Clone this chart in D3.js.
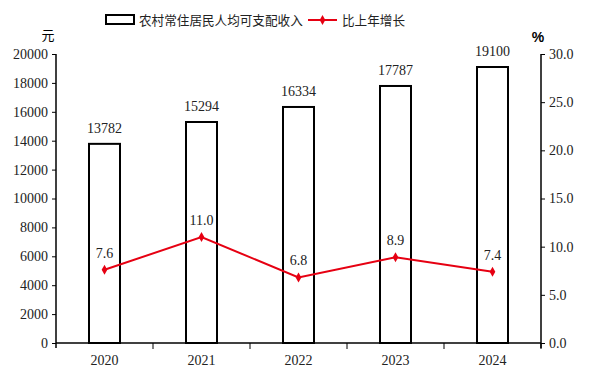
<!DOCTYPE html>
<html>
<head>
<meta charset="utf-8">
<style>
body { margin: 0; background: #fff; }
svg text { font-family: "Liberation Serif", "DejaVu Serif", serif; }
.cjk { font-family: "Noto Sans CJK SC", sans-serif; }
</style>
</head>
<body>
<svg width="589" height="374"></svg>
<script src="https://cdn.jsdelivr.net/npm/d3@7"></script>
<script>
var years = ["2020", "2021", "2022", "2023", "2024"];
var income = [13782, 15294, 16334, 17787, 19100];
var growth = [7.6, 11.0, 6.8, 8.9, 7.4];
var leftTicks = [0, 2000, 4000, 6000, 8000, 10000, 12000, 14000, 16000, 18000, 20000];
var rightTicks = [0, 5, 10, 15, 20, 25, 30];

var svg = d3.select("svg"),
    pLeft = 56, pRight = 541, pTop = 54, pBottom = 343;

var x = d3.scaleBand().domain(years).range([pLeft, pRight]);
var y = d3.scaleLinear().domain([0, 20000]).range([pBottom, pTop]);
var y2 = d3.scaleLinear().domain([0, 30]).range([pBottom, pTop]);

function cx(i) { return x(years[i]) + x.bandwidth() / 2; }

// bars
svg.selectAll(".bar")
  .data(income)
  .enter().append("rect")
    .attr("class", "bar")
    .attr("x", function(d, i) { return cx(i) - 15.5; })
    .attr("y", function(d) { return y(d); })
    .attr("width", 31)
    .attr("height", function(d) { return pBottom - y(d); })
    .attr("fill", "#fff")
    .attr("stroke", "#000")
    .attr("stroke-width", 2);

svg.selectAll(".barlab")
  .data(income)
  .enter().append("text")
    .attr("x", function(d, i) { return cx(i); })
    .attr("y", function(d) { return y(d) - 11; })
    .attr("text-anchor", "middle")
    .attr("font-size", 14)
    .attr("fill", "#222")
    .text(function(d) { return d; });

// axes
var xAxis = svg.append("g")
    .attr("transform", "translate(0," + pBottom + ")")
    .call(d3.axisBottom(x).tickSize(0).tickPadding(12));
xAxis.select(".domain").remove();
xAxis.selectAll("text").attr("font-size", 14).attr("fill", "#222").attr("font-family", "Liberation Serif");
svg.append("line").attr("x1", pLeft).attr("x2", pRight).attr("y1", pBottom).attr("y2", pBottom)
  .attr("stroke", "#000").attr("stroke-width", 1.5);
svg.selectAll(".xtick")
  .data(years)
  .enter().append("line")
    .attr("x1", function(d) { return x(d) + x.bandwidth(); })
    .attr("x2", function(d) { return x(d) + x.bandwidth(); })
    .attr("y1", pBottom).attr("y2", pBottom + 6)
    .attr("stroke", "#000").attr("stroke-width", 1);

var yAxis = svg.append("g")
    .attr("transform", "translate(" + pLeft + ",0)")
    .call(d3.axisLeft(y).tickValues(leftTicks).tickSize(4).tickSizeOuter(0).tickPadding(4).tickFormat(d3.format("d")));
yAxis.select(".domain").attr("d", "M0," + pTop + "V" + (pBottom + 5)).attr("stroke-width", 1.5);
yAxis.selectAll("text").attr("font-size", 14).attr("fill", "#222").attr("font-family", "Liberation Serif");

var y2Axis = svg.append("g")
    .attr("transform", "translate(" + pRight + ",0)")
    .call(d3.axisRight(y2).tickValues(rightTicks).tickSize(4).tickSizeOuter(0).tickPadding(4).tickFormat(d3.format(".1f")));
y2Axis.select(".domain").attr("d", "M0," + pTop + "V" + (pBottom + 5)).attr("stroke-width", 1.5);
y2Axis.selectAll("text").attr("font-size", 14).attr("fill", "#222").attr("font-family", "Liberation Serif");

svg.append("text").attr("class", "cjk").attr("x", 48).attr("y", 40)
  .attr("text-anchor", "middle").attr("font-size", 13).text("元");
svg.append("text").attr("x", 538).attr("y", 42)
  .attr("text-anchor", "middle").attr("font-size", 14).attr("font-weight", "bold")
  .style("font-family", "Liberation Sans, sans-serif").text("%");

// growth line
var line = d3.line()
  .x(function(d, i) { return cx(i); })
  .y(function(d) { return y2(d); });

svg.append("path").datum(growth)
  .attr("d", line).attr("fill", "none")
  .attr("stroke", "#e60012").attr("stroke-width", 2);

svg.selectAll(".pt")
  .data(growth)
  .enter().append("path")
    .attr("d", d3.symbol(d3.symbolDiamond, 28))
    .attr("transform", function(d, i) { return "translate(" + cx(i) + "," + y2(d) + ")"; })
    .attr("fill", "#e60012");

svg.selectAll(".ptlab")
  .data(growth)
  .enter().append("text")
    .attr("x", function(d, i) { return cx(i); })
    .attr("y", function(d) { return y2(d) - 12; })
    .attr("text-anchor", "middle")
    .attr("font-size", 14)
    .attr("fill", "#222")
    .text(function(d) { return d.toFixed(1); });

// legend
var lg = svg.append("g");
lg.append("rect").attr("x", 106).attr("y", 15).attr("width", 28).attr("height", 9)
  .attr("fill", "#fff").attr("stroke", "#000").attr("stroke-width", 2);
lg.append("text").attr("class", "cjk").attr("x", 139).attr("y", 25)
  .attr("font-size", 12.6).attr("fill", "#222").text("农村常住居民人均可支配收入");
lg.append("line").attr("x1", 308).attr("x2", 337).attr("y1", 20).attr("y2", 20)
  .attr("stroke", "#e60012").attr("stroke-width", 2);
lg.append("path").attr("d", d3.symbol(d3.symbolDiamond, 28))
  .attr("transform", "translate(322.5,20)").attr("fill", "#e60012");
lg.append("text").attr("class", "cjk").attr("x", 342).attr("y", 25)
  .attr("font-size", 12.6).attr("fill", "#222").text("比上年增长");
</script>
</body>
</html>
